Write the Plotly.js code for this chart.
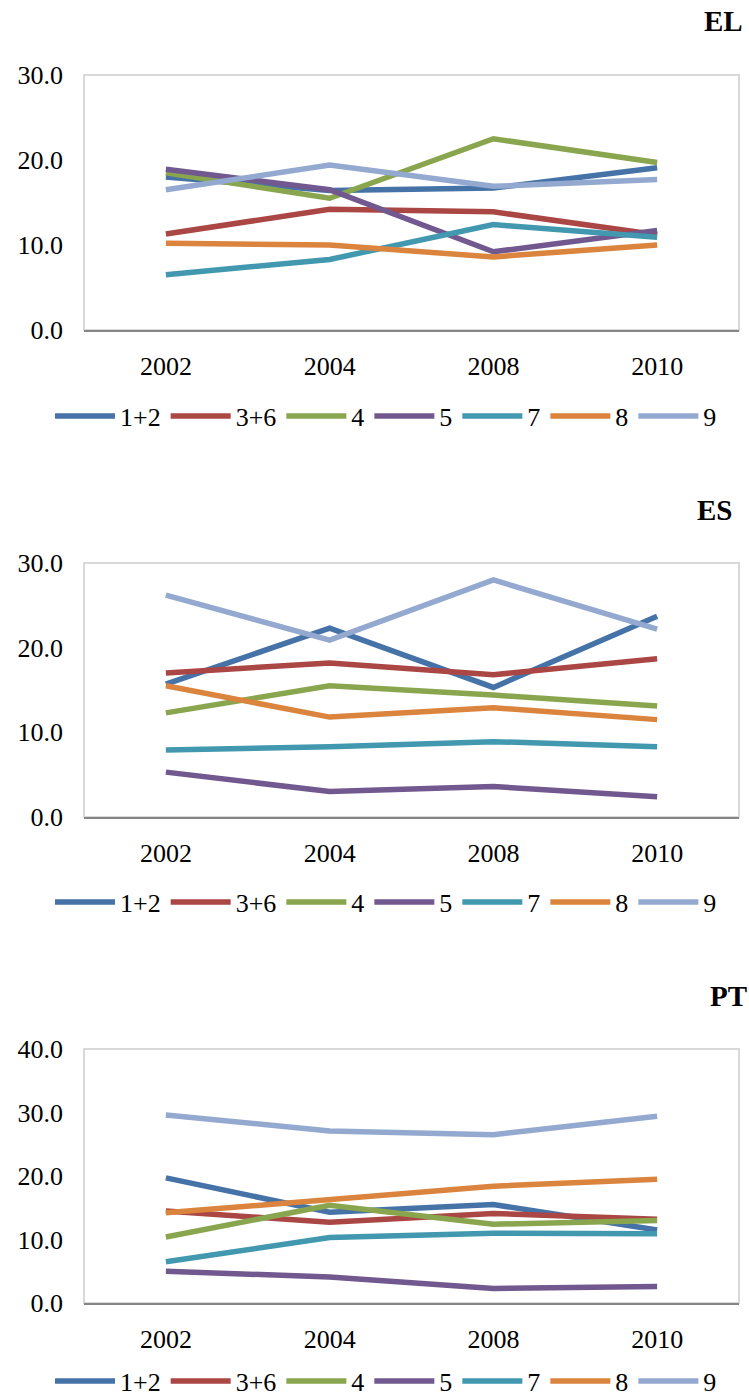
<!DOCTYPE html>
<html>
<head>
<meta charset="utf-8">
<script src="https://cdn.plot.ly/plotly-3.0.1.min.js"></script>
<style>
html, body { margin: 0; padding: 0; background: #fff; }
#chart { width: 749px; height: 1400px; }
</style>
</head>
<body>
<div id="chart"></div>
<script>
// ---- data ----
const years = ['2002', '2004', '2008', '2010'];
const seriesNames = ['1+2', '3+6', '4', '5', '7', '8', '9'];
const panelTitles = ['EL', 'ES', 'PT'];

const el_1_2 = [18.0, 16.4, 16.7, 19.1];
const el_3_6 = [11.3, 14.2, 13.9, 11.2];
const el_4   = [18.5, 15.5, 22.5, 19.7];
const el_5   = [18.9, 16.5, 9.2, 11.7];
const el_7   = [6.5, 8.3, 12.4, 10.9];
const el_8   = [10.2, 10.0, 8.6, 10.0];
const el_9   = [16.5, 19.4, 16.9, 17.7];

const es_1_2 = [15.7, 22.3, 15.3, 23.7];
const es_3_6 = [17.0, 18.2, 16.8, 18.7];
const es_4   = [12.3, 15.5, 14.4, 13.1];
const es_5   = [5.3, 3.0, 3.6, 2.4];
const es_7   = [7.9, 8.3, 8.9, 8.3];
const es_8   = [15.5, 11.8, 12.9, 11.5];
const es_9   = [26.2, 20.9, 28.0, 22.2];

const pt_1_2 = [19.7, 14.3, 15.5, 11.5];
const pt_3_6 = [14.5, 12.7, 14.1, 13.2];
const pt_4   = [10.4, 15.4, 12.4, 13.0];
const pt_5   = [5.0, 4.1, 2.3, 2.6];
const pt_7   = [6.5, 10.3, 11.0, 10.9];
const pt_8   = [14.2, 16.4, 18.4, 19.5];
const pt_9   = [29.6, 27.1, 26.5, 29.4];

const yMax = [30, 30, 40];

// ---- styles ----
const colors = ['#4572A7', '#AA4643', '#89A54E', '#71588F', '#4198AF', '#DB843D', '#93A9CF'];
const FONT = '"Liberation Serif"';
const panels = [
  [el_1_2, el_3_6, el_4, el_5, el_7, el_8, el_9],
  [es_1_2, es_3_6, es_4, es_5, es_7, es_8, es_9],
  [pt_1_2, pt_3_6, pt_4, pt_5, pt_7, pt_8, pt_9]
];

const H = 1400, W = 749;
const plotTop = [75, 563, 1049];
const plotBottom = [330, 817, 1303];
const legendY = [416, 902, 1381];
const titleY = [21.5, 510, 995.5];
const titleRight = [745, 734, 749];
const xLeft = 84, xRight = 739;

const traces = [];
const layout = {
  width: W, height: H,
  margin: {l: 0, r: 0, t: 0, b: 0, autoexpand: false},
  paper_bgcolor: '#ffffff',
  plot_bgcolor: '#ffffff',
  showlegend: true,
  font: {family: FONT, size: 26, color: '#000'},
  annotations: [],
  shapes: []
};

panels.forEach((series, p) => {
  const sfx = p === 0 ? '' : String(p + 1);
  const legName = 'legend' + sfx;
  series.forEach((vals, i) => {
    traces.push({
      type: 'scatter', mode: 'lines',
      x: years, y: vals,
      name: seriesNames[i],
      xaxis: 'x' + sfx, yaxis: 'y' + sfx,
      legend: legName,
      line: {color: colors[i], width: 5.5},
      hoverinfo: 'x+y+name'
    });
  });
  layout['xaxis' + sfx] = {
    domain: [xLeft / W, xRight / W],
    anchor: 'y' + sfx,
    type: 'category',
    range: [-0.5, 3.5],
    showgrid: false, zeroline: false,
    showline: true, linecolor: '#868686', linewidth: 2,
    ticks: '', ticklabelstandoff: 12,
    tickfont: {family: FONT, size: 26, color: '#000'},
    fixedrange: true
  };
  layout['yaxis' + sfx] = {
    domain: [1 - plotBottom[p] / H, 1 - plotTop[p] / H],
    anchor: 'x' + sfx,
    range: [0, yMax[p]],
    dtick: 10, tick0: 0,
    tickformat: '.1f',
    showgrid: false, zeroline: false, showline: false,
    ticks: '', ticklabelstandoff: 20,
    tickfont: {family: FONT, size: 26, color: '#000'},
    fixedrange: true
  };
  layout[legName] = {
    orientation: 'h',
    x: 386 / W, xanchor: 'center',
    y: 1 - legendY[p] / H, yanchor: 'middle',
    itemwidth: 60,
    font: {family: FONT, size: 26, color: '#000'},
    bgcolor: 'rgba(0,0,0,0)',
    traceorder: 'normal'
  };
  layout.shapes.push({
    type: 'rect', xref: 'x' + sfx + ' domain', yref: 'y' + sfx + ' domain',
    x0: 0, x1: 1, y0: 0, y1: 1,
    line: {color: '#D9D9D9', width: 2}, fillcolor: 'rgba(0,0,0,0)', layer: 'below'
  });
  layout.annotations.push({
    text: '<b>' + panelTitles[p] + '</b>',
    xref: 'paper', yref: 'paper',
    x: titleRight[p] / W, xanchor: 'right',
    y: 1 - titleY[p] / H, yanchor: 'middle',
    showarrow: false,
    font: {family: FONT, size: 29, color: '#000'}
  });
});

Plotly.newPlot('chart', traces, layout, {displayModeBar: false, staticPlot: true});
</script>
</body>
</html>
